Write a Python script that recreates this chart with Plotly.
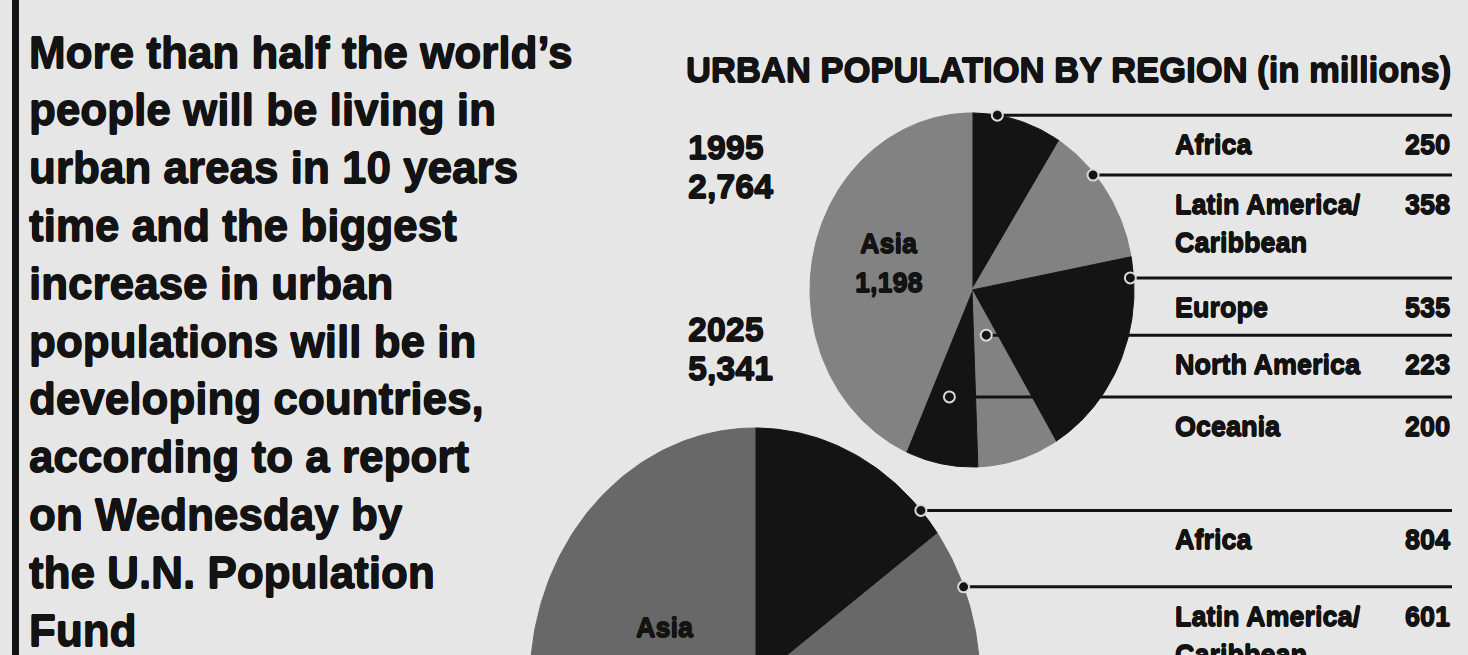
import math
import plotly.graph_objects as go

# ---------------- data ----------------
regions = ["Africa", "Latin America/", "Europe", "North America", "Oceania", "Asia"]
region_sub = ["", "Caribbean", "", "", "", ""]
urban_1995 = [250, 358, 535, 223, 200, 1198]
urban_2025 = [804, 601, 598, 313, 307, 2718]   # last four estimated (hidden below the crop)
years = ["1995", "2025"]

title = "URBAN POPULATION BY REGION (in millions)"
body_lines = [
    "More than half the world\u2019s",
    "people will be living in",
    "urban areas in 10 years",
    "time and the biggest",
    "increase in urban",
    "populations will be in",
    "developing countries,",
    "according to a report",
    "on Wednesday by",
    "the U.N. Population",
    "Fund",
]

# ---------------- style / layout ----------------
W, H = 1468, 655
BG = "#e6e6e6"
INK = "#131313"
BLACK = "#141414"
FONT = "Liberation Sans, Arial, sans-serif"
THICK = "0.6px 0 0 #131313, -0.6px 0 0 #131313, 0 0.6px 0 #131313, 0 -0.6px 0 #131313"

pies = [
    dict(values=urban_1995, cx=972, cy=290, rx=162, ry=177, gray="#828282",
         dots=[(9, 1.0), (49, 0.99), (86, 0.98), (161, 0.27), (193, 0.62)],
         asia_label=(889, 244), year_pos=(686, 147)),
    dict(values=urban_2025, cx=755, cy=682, rx=225, ry=254, gray="#686868",
         dots=[(47.5, 1.0), (68, 1.0), (120, 0.6), (150, 0.6), (170, 0.6)],
         asia_label=(665, 628), year_pos=(686, 329)),
]
slice_kind = ["black", "gray", "black", "gray", "black", "gray"]
LINE_END = 1452
LABEL_X = 1173


def f(size):
    return dict(family=FONT, size=size, color=INK, weight="bold", shadow=THICK)


fig = go.Figure()
annotations = []


def pt(p, ang, frac=1.0):
    a = math.radians(ang)
    return (p["cx"] + frac * p["rx"] * math.sin(a), p["cy"] - frac * p["ry"] * math.cos(a))


for pi, p in enumerate(pies):
    vals = p["values"]
    total = sum(vals)
    cum = 0
    angles = []
    for v in vals:
        a0 = cum / total * 360
        cum += v
        a1 = cum / total * 360
        angles.append((a0, a1))
    # slices
    for i, (a0, a1) in enumerate(angles):
        n = max(3, int((a1 - a0) / 1.0) + 2)
        xs, ys = [p["cx"]], [p["cy"]]
        for k in range(n):
            x, y = pt(p, a0 + (a1 - a0) * k / (n - 1))
            xs.append(x)
            ys.append(y)
        xs.append(p["cx"])
        ys.append(p["cy"])
        col = BLACK if slice_kind[i] == "black" else p["gray"]
        fig.add_trace(go.Scatter(x=xs, y=ys, mode="lines", fill="toself",
                                 fillcolor=col, line=dict(color=col, width=1),
                                 hoverinfo="skip", showlegend=False))
    # leader lines, dots and labels (all regions except Asia)
    for i in range(5):
        ang, frac = p["dots"][i]
        dx, dy = pt(p, ang, frac)
        if dy > H + 5:
            continue
        fig.add_trace(go.Scatter(x=[dx, LINE_END], y=[dy, dy], mode="lines",
                                 line=dict(color=INK, width=3),
                                 hoverinfo="skip", showlegend=False))
        fig.add_trace(go.Scatter(x=[dx], y=[dy], mode="markers",
                                 marker=dict(size=11, color=INK,
                                             line=dict(color="#d9d9d9", width=2)),
                                 hoverinfo="skip", showlegend=False))
        ly = dy + 30
        annotations.append(dict(x=LABEL_X, y=ly, text=regions[i], xanchor="left",
                                yanchor="middle", showarrow=False, font=f(27)))
        annotations.append(dict(x=LINE_END, y=ly, text=f"{vals[i]:,}", xanchor="right",
                                yanchor="middle", showarrow=False, font=f(27)))
        if region_sub[i]:
            annotations.append(dict(x=LABEL_X, y=ly + 38, text=region_sub[i], xanchor="left",
                                    yanchor="middle", showarrow=False, font=f(27)))
    # Asia label inside the pie
    ax, ay = p["asia_label"]
    annotations.append(dict(x=ax, y=ay, text=regions[5], showarrow=False,
                            xanchor="center", yanchor="middle", font=f(27)))
    annotations.append(dict(x=ax, y=ay + 39, text=f"{vals[5]:,}", showarrow=False,
                            xanchor="center", yanchor="middle", font=f(27)))
    # year + total
    yx, yy = p["year_pos"]
    annotations.append(dict(x=yx, y=yy, text=years[pi], showarrow=False,
                            xanchor="left", yanchor="middle", font=f(34)))
    annotations.append(dict(x=yx, y=yy + 39, text=f"{total:,}", showarrow=False,
                            xanchor="left", yanchor="middle", font=f(34)))

# title
annotations.append(dict(x=684, y=70, text=title, showarrow=False, xanchor="left",
                        yanchor="middle", font=f(34.6)))

# body text
for k, line in enumerate(body_lines):
    annotations.append(dict(x=27, y=52 + 57.8 * k, text=line, showarrow=False,
                            xanchor="left", yanchor="middle", font=f(44)))

fig.update_layout(
    width=W, height=H,
    margin=dict(l=0, r=0, t=0, b=0),
    paper_bgcolor=BG, plot_bgcolor=BG,
    xaxis=dict(range=[0, W], visible=False, fixedrange=True),
    yaxis=dict(range=[H, 0], visible=False, fixedrange=True),
    annotations=annotations,
    shapes=[dict(type="rect", xref="x", yref="y", x0=12, x1=19, y0=0, y1=H,
                 fillcolor=INK, line=dict(width=0), layer="above")],
    showlegend=False,
)

fig.write_html("out.html", config={"displayModeBar": False},
               post_script="document.body.style.margin='0';document.body.style.background='#e6e6e6';")
